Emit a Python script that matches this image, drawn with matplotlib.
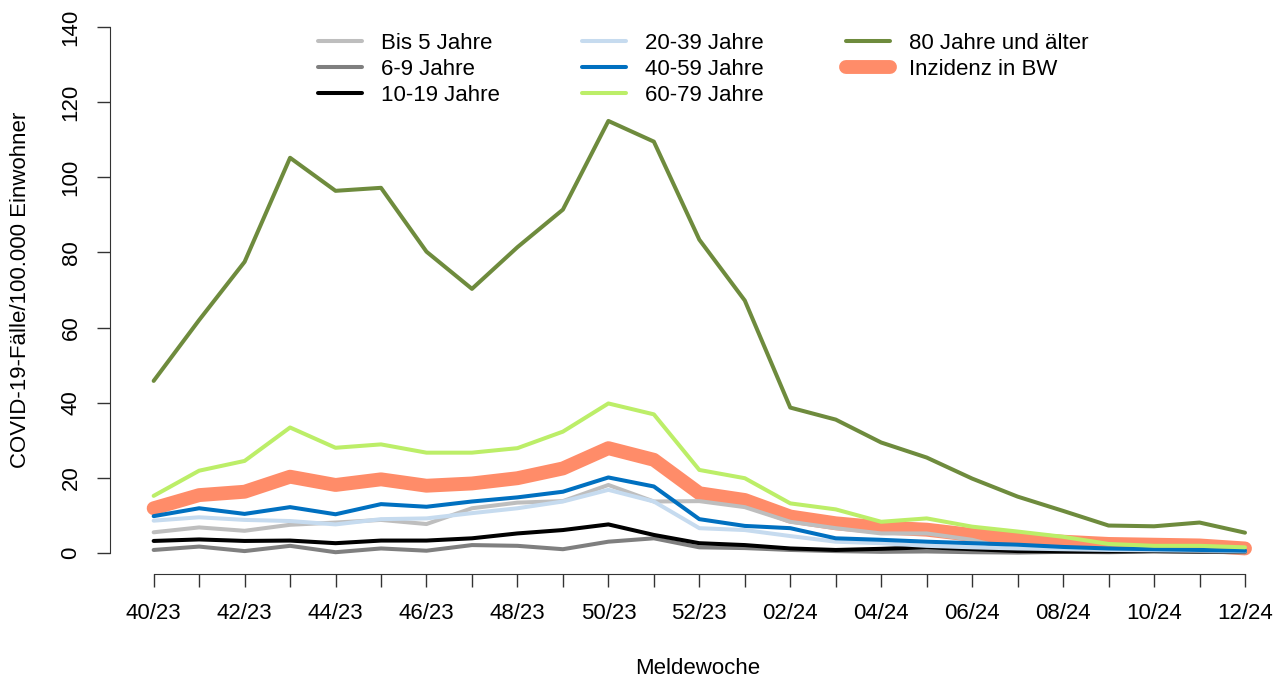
import matplotlib
matplotlib.use("Agg")
from matplotlib import pyplot as plt
import numpy as np

plt.rcParams['font.family'] = ['Liberation Sans', 'DejaVu Sans']

# Meldewochen 40/23 .. 12/24
wochen = ['40/23', '41/23', '42/23', '43/23', '44/23', '45/23', '46/23', '47/23',
          '48/23', '49/23', '50/23', '51/23', '52/23', '01/24', '02/24', '03/24',
          '04/24', '05/24', '06/24', '07/24', '08/24', '09/24', '10/24', '11/24', '12/24']

bis5 = [5.5, 6.8, 5.9, 7.5, 8.1, 8.8, 7.7, 11.9, 13.4, 13.8, 18.1, 13.7, 13.8,
        12.2, 8.3, 6.6, 5.2, 5.2, 3.5, 0.5, 0.8, 0.8, 0.5, 0.3, 0.2]
j6_9 = [0.8, 1.7, 0.5, 1.9, 0.2, 1.2, 0.6, 2.1, 1.9, 1.0, 3.0, 3.9, 1.5,
        1.3, 0.8, 0.5, 0.3, 0.4, 0.2, 0.1, 0.3, 0.2, 0.4, 0.3, 0.2]
j10_19 = [3.2, 3.6, 3.2, 3.3, 2.6, 3.3, 3.3, 3.9, 5.2, 6.1, 7.6, 4.8, 2.6,
          2.1, 1.2, 0.8, 1.1, 1.5, 1.0, 0.5, 0.4, 0.4, 0.5, 0.4, 0.5]
j20_39 = [8.6, 9.5, 8.8, 8.5, 7.6, 9.0, 9.2, 10.6, 11.9, 13.7, 16.8, 13.7, 6.6,
          6.1, 4.5, 3.0, 2.6, 1.9, 1.5, 1.2, 1.0, 0.8, 0.7, 0.6, 0.5]
j40_59 = [9.8, 11.9, 10.4, 12.2, 10.3, 13.0, 12.3, 13.7, 14.8, 16.3, 20.1, 17.7, 9.0,
          7.2, 6.6, 3.9, 3.5, 3.0, 2.6, 2.2, 1.6, 1.2, 1.0, 0.8, 0.6]
j60_79 = [15.2, 21.9, 24.5, 33.4, 28.0, 28.9, 26.7, 26.7, 27.9, 32.3, 39.8, 36.9, 22.1,
          19.9, 13.2, 11.6, 8.3, 9.2, 7.0, 5.7, 4.3, 2.4, 1.9, 1.9, 1.5]
j80 = [45.8, 62.0, 77.5, 105.2, 96.4, 97.2, 80.2, 70.3, 81.4, 91.4, 115.0, 109.5, 83.4,
       67.2, 38.7, 35.5, 29.4, 25.4, 19.8, 15.0, 11.2, 7.3, 7.1, 8.1, 5.4]
inzidenz = [11.9, 15.4, 16.3, 20.3, 18.1, 19.6, 17.9, 18.5, 19.9, 22.5, 27.9, 24.8, 15.9,
            14.1, 9.7, 7.9, 6.8, 6.2, 4.8, 3.8, 3.0, 2.4, 2.2, 2.0, 1.2]

x = np.arange(len(wochen))

fig = plt.figure(figsize=(12.85, 6.8), dpi=100)
W, H = 1285, 680
ax = fig.add_axes([110 / W, (H - 574) / H, (1285 - 110) / W, (574 - 6) / H])

lw = 2.9
kw = dict(solid_capstyle='round', solid_joinstyle='round')
h_inz, = ax.plot(x, inzidenz, color='#FF8C69', lw=10, label='Inzidenz in BW', **kw)
h1, = ax.plot(x, bis5, color='#BEBEBE', lw=lw, label='Bis 5 Jahre', **kw)
h2, = ax.plot(x, j6_9, color='#7F7F7F', lw=lw, label='6-9 Jahre', **kw)
h3, = ax.plot(x, j10_19, color='black', lw=lw, label='10-19 Jahre', **kw)
h4, = ax.plot(x, j20_39, color='#C6DBEF', lw=lw, label='20-39 Jahre', **kw)
h5, = ax.plot(x, j40_59, color='#0070C0', lw=lw, label='40-59 Jahre', **kw)
h6, = ax.plot(x, j60_79, color='#BCEE68', lw=lw, label='60-79 Jahre', **kw)
h7, = ax.plot(x, j80, color='#6E8B3D', lw=lw, label='80 Jahre und älter', **kw)

ax.set_xlim(-0.96, 24 + 40 / 45.46)
ax.set_ylim(-5.6, 145.6)

for s in ['top', 'right']:
    ax.spines[s].set_visible(False)
ax.spines['left'].set_bounds(0, 140)
ax.spines['bottom'].set_bounds(0, 24)
ax.spines['left'].set_color('#333333')
ax.spines['bottom'].set_color('#333333')

ax.set_xticks(x)
ax.set_xticklabels([w if i % 2 == 0 else '' for i, w in enumerate(wochen)])
ax.set_yticks(np.arange(0, 141, 20))
ax.set_yticklabels([str(v) for v in range(0, 141, 20)], rotation=90, va='center')
ax.tick_params(direction='out', length=9.5, width=1, color='#333333', labelsize=16, pad=11.5)
ax.tick_params(axis='y', pad=11)

ax.set_xlabel('Meldewoche', fontsize=16, labelpad=24.5)
ax.set_ylabel('COVID-19-Fälle/100.000 Einwohner', fontsize=16, labelpad=21)

handles = [h1, h2, h3, h4, h5, h6, h7, h_inz]
fig.legend(handles=handles, labels=[h.get_label() for h in handles],
           loc='upper left', bbox_to_anchor=(318 / W, 1 - 33 / H), ncol=3, frameon=False,
           fontsize=16, handlelength=1.98, handletextpad=0.86, columnspacing=3.7,
           labelspacing=0.23, borderaxespad=0, borderpad=0)

fig.savefig('out.png', dpi=100)
